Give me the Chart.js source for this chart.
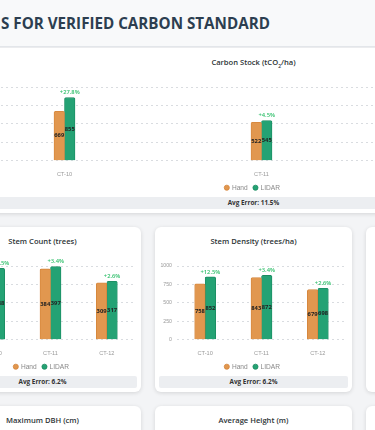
<!DOCTYPE html>
<html>
<head>
<meta charset="utf-8">
<script src="https://cdn.jsdelivr.net/npm/chart.js@4.4.1/dist/chart.umd.min.js"></script>
<style>
    html, body { margin: 0; padding: 0; }
    body {
        width: 375px; height: 430px; overflow: hidden; position: relative;
        background: #f3f4f6;
        font-family: "Open Sans", "Noto Sans", sans-serif;
    }
    .header {
        position: absolute; left: 0; top: 0; width: 375px; height: 46px;
        background: #f8f9fa; border-bottom: 1px solid #e3e6ea; z-index: 2;
    }
    .header h1 {
        position: absolute; left: 1px; top: 14px; margin: 0;
        font-size: 15.2px; line-height: 19px; font-weight: 700; color: #2c3e50;
        white-space: nowrap;
    }
    .grid {
        position: absolute; left: -56px; top: 48px; width: 619px;
        display: grid; grid-template-columns: 197px 197px 197px;
        column-gap: 14px; row-gap: 14px;
    }
    .card {
        background: #fff; border-radius: 6px; height: 165px; box-sizing: border-box;
        box-shadow: 0 1px 4px rgba(0,0,0,0.13);
        padding: 8px 4px 4px;
    }
    .card.wide { grid-column: 1 / span 3; }
    .card h3 {
        margin: 0; height: 13px; line-height: 13px; text-align: center;
        font-size: 7.6px; font-weight: 600; color: #2d3436;
    }
    .card h3 sub { font-size: 5px; }
    .chart-box { position: relative; height: 132px; margin: 0 2px 0 0; }
    .err {
        position: relative;
        margin-top: -4px; height: 11.5px; line-height: 11.5px; border-radius: 2px;
        background: #eceef1; text-align: center;
        font-size: 6.4px; font-weight: 700; color: #333;
    }
</style>
</head>
<body>
<div class="header"><h1>S FOR VERIFIED CARBON STANDARD</h1></div>
<div class="grid">
    <div class="card wide">
        <h3>Carbon Stock (tCO<sub>2</sub>/ha)</h3>
        <div class="chart-box"><canvas id="carbonChart"></canvas></div>
        <div class="err">Avg Error: 11.5%</div>
    </div>
    <div class="card">
        <h3>Stem Count (trees)</h3>
        <div class="chart-box"><canvas id="countChart"></canvas></div>
        <div class="err">Avg Error: 6.2%</div>
    </div>
    <div class="card">
        <h3>Stem Density (trees/ha)</h3>
        <div class="chart-box"><canvas id="densityChart"></canvas></div>
        <div class="err">Avg Error: 6.2%</div>
    </div>
    <div class="card"></div>
    <div class="card"><h3>Maximum DBH (cm)</h3></div>
    <div class="card"><h3>Average Height (m)</h3></div>
    <div class="card"></div>
</div>

<script>
const categories = ['CT-10', 'CT-11', 'CT-12'];

const carbonHand = [669, 522, 450];
const carbonLidar = [855, 545, 460];
const carbonPct = ['+27.8%', '+4.5%', '+2.2%'];

const countHand = [345, 384, 309];
const countLidar = [388, 397, 317];
const countPct = ['+12.5%', '+3.4%', '+2.6%'];

const densityHand = [758, 843, 679];
const densityLidar = [852, 872, 698];
const densityPct = ['+12.5%', '+3.4%', '+2.6%'];

const HAND_COLOR = '#e1974f';
const HAND_BORDER = '#d4843a';
const LIDAR_COLOR = '#24a274';
const LIDAR_BORDER = '#1b8a60';
const PCT_COLOR = '#2fbf6a';

// draws the value inside each bar and the % difference above the LIDAR bar
const barLabels = {
    id: 'barLabels',
    afterDatasetsDraw(chart) {
        const ctx = chart.ctx;
        const pct = chart.options.plugins.barLabels.pct;
        ctx.save();
        ctx.textAlign = 'center';
        ctx.textBaseline = 'middle';
        chart.data.datasets.forEach((ds, di) => {
            const meta = chart.getDatasetMeta(di);
            meta.data.forEach((bar, i) => {
                ctx.font = 'bold 5.8px "Open Sans", sans-serif';
                ctx.fillStyle = '#222';
                ctx.fillText(ds.data[i], bar.x, (bar.y + bar.base) / 2);
                if (di === 1) {
                    ctx.font = '600 5.8px "Open Sans", sans-serif';
                    ctx.fillStyle = PCT_COLOR;
                    ctx.fillText(pct[i], bar.x, bar.y - 5);
                }
            });
        });
        ctx.restore();
    }
};

function makeChart(id, hand, lidar, pct, yMax, yStep, catPct) {
    const ctx = document.getElementById(id).getContext('2d');
    return new Chart(ctx, {
        type: 'bar',
        data: {
            labels: categories,
            datasets: [
                {
                    label: 'Hand',
                    data: hand,
                    backgroundColor: HAND_COLOR,
                    borderColor: HAND_BORDER,
                    borderWidth: 0.8,
                    borderRadius: 1.5,
                    barThickness: 10.5,
                    categoryPercentage: catPct
                },
                {
                    label: 'LIDAR',
                    data: lidar,
                    backgroundColor: LIDAR_COLOR,
                    borderColor: LIDAR_BORDER,
                    borderWidth: 0.8,
                    borderRadius: 1.5,
                    barThickness: 10.5,
                    categoryPercentage: catPct
                }
            ]
        },
        options: {
            responsive: true,
            maintainAspectRatio: false,
            animation: false,
            layout: { padding: { top: 18, bottom: 0, left: 0, right: 0 } },
            scales: {
                x: {
                    grid: { display: false },
                    border: { display: false },
                    ticks: { color: '#999', font: { size: 5.6 }, padding: 2 },
                    afterFit: (scale) => { scale.height = 17.7; }
                },
                y: {
                    min: 0,
                    max: yMax,
                    grid: { color: '#d9dce0', lineWidth: 1, tickLength: 0 },
                    border: { display: false, dash: [2, 3] },
                    ticks: {
                        stepSize: yStep, color: '#999', font: { size: 5.2 }, padding: 5,
                        callback: (v) => String(v)
                    },
                    afterFit: (scale) => { scale.width = 18; }
                }
            },
            plugins: {
                legend: {
                    position: 'bottom',
                    labels: {
                        usePointStyle: true,
                        pointStyle: 'circle',
                        boxWidth: 3.6,
                        boxHeight: 3.6,
                        padding: 6,
                        color: '#888',
                        font: { size: 6.6 }
                    }
                },
                tooltip: { enabled: false },
                barLabels: { pct: pct }
            }
        },
        plugins: [barLabels]
    });
}

makeChart('carbonChart', carbonHand, carbonLidar, carbonPct, 1000, 250, 0.127);
makeChart('countChart', countHand, countLidar, countPct, 400, 100, 0.446);
makeChart('densityChart', densityHand, densityLidar, densityPct, 1000, 250, 0.446);
</script>
</body>
</html>
